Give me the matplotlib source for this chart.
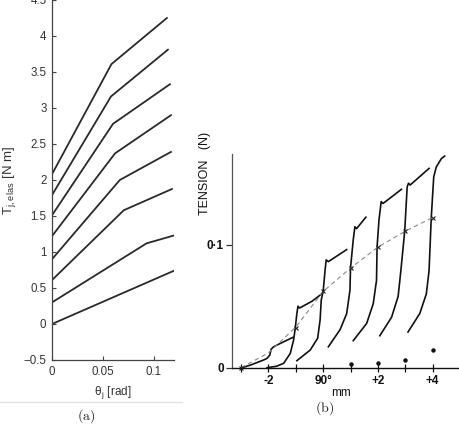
import matplotlib
matplotlib.use("Agg")
import matplotlib.pyplot as plt
from matplotlib.lines import Line2D
from matplotlib.ticker import FixedLocator, FixedFormatter

plt.rcParams['font.family'] = ['Liberation Sans', 'DejaVu Sans']
plt.rcParams['mathtext.fontset'] = 'cm'

# ---------------- Panel (a) data ----------------
a_y0 = [0.0, 0.30, 0.61, 0.90, 1.22, 1.51, 1.79, 2.08]
a_xk = [0.060, 0.093, 0.0706, 0.0667, 0.062, 0.060, 0.058, 0.0585]
a_yk = [0.37, 1.12, 1.58, 2.00, 2.37, 2.78, 3.16, 3.61]
a_xe = [0.120, 0.120, 0.118, 0.117, 0.117, 0.116, 0.114, 0.113]
a_ye = [0.74, 1.23, 1.875, 2.39, 2.90, 3.33, 3.81, 4.25]
a_yticks = [-0.5, 0, 0.5, 1, 1.5, 2, 2.5, 3, 3.5, 4, 4.5]
a_yticklabels = ['\u22120.5', '0', '0.5', '1', '1.5', '2', '2.5', '3', '3.5', '4', '4.5']
a_xticks = [0, 0.05, 0.1]
a_xticklabels = ['0', '0.05', '0.1']

# ---------------- Panel (b) data ----------------
b_curves_x = [
    [-2.96, -2.65, -2.17, -2.05, -1.95, -1.90, -1.81, -1.56, -1.10],
    [-2.05, -1.70, -1.44, -1.20, -1.08, -1.02, -0.96, -0.92, -0.86, -0.41, -0.05],
    [-0.96, -0.47, -0.20, -0.11, -0.07, 0.00, 0.07, 0.11, 0.19, 0.86],
    [0.19, 0.62, 0.86, 0.98, 1.00, 1.10, 1.16, 1.22, 1.56],
    [1.10, 1.59, 1.83, 1.95, 1.97, 2.04, 2.12, 2.19, 2.86],
    [2.07, 2.50, 2.74, 2.84, 2.98, 3.07, 3.12, 3.18, 3.87],
    [3.10, 3.53, 3.77, 3.87, 3.95, 4.04, 4.13, 4.32, 4.44],
]
b_curves_y = [
    [0.0, 0.0022, 0.0063, 0.0076, 0.0103, 0.0150, 0.0170, 0.0198, 0.0247],
    [0.0, 0.0012, 0.0036, 0.0117, 0.0225, 0.0320, 0.0440, 0.0500, 0.0485, 0.0540, 0.0600],
    [0.0057, 0.0144, 0.0240, 0.0390, 0.0550, 0.0620, 0.0790, 0.0876, 0.0862, 0.0960],
    [0.017, 0.031, 0.044, 0.063, 0.081, 0.104, 0.1146, 0.1130, 0.1223],
    [0.022, 0.036, 0.052, 0.071, 0.098, 0.120, 0.135, 0.1335, 0.145],
    [0.026, 0.041, 0.058, 0.079, 0.111, 0.147, 0.150, 0.1485, 0.162],
    [0.029, 0.044, 0.060, 0.079, 0.122, 0.155, 0.163, 0.170, 0.172],
]
b_dash_x = [-3, -2, -1, 0, 1, 2, 3, 4]
b_dash_y = [0.0, 0.012, 0.033, 0.062, 0.081, 0.098, 0.111, 0.122]
b_mark_x = [-3, -1, 0, 1, 2, 3, 4]
b_mark_y = [0.0, 0.032, 0.062, 0.081, 0.098, 0.111, 0.122]
b_dot_x = [1, 2, 3, 4]
b_dot_y = [0.003, 0.004, 0.006, 0.0144]
b_xticks = [-2, 0, 2, 4]
b_xticklabels = ['-2', '90\u00b0', '+2', '+4']
b_xminor = [-3, -1, 1, 3]
b_yticks = [0, 0.1]
b_yticklabels = ['0', '0\u00b71']

W, H = 460, 425
fig = plt.figure(figsize=(4.6, 4.25), dpi=100)
fig.patch.set_facecolor('white')

def px_axes(l, t, r, b):
    return fig.add_axes([l / W, 1 - b / H, (r - l) / W, (b - t) / H])

# ---------------- Panel (a) ----------------
axa = px_axes(52, 0, 174, 360)
for i in range(len(a_y0)):
    axa.plot([0, a_xk[i], a_xe[i]], [a_y0[i], a_yk[i], a_ye[i]],
             color='#2a2a2a', lw=1.3, solid_joinstyle='round')
axa.set_xlim(0, 0.12)
axa.set_ylim(-0.5, 4.5)
for s in ['top', 'right']:
    axa.spines[s].set_visible(False)
for s in ['left', 'bottom']:
    axa.spines[s].set_color('#444444')
    axa.spines[s].set_linewidth(0.9)
axa.set_yticks(a_yticks)
axa.set_yticklabels(a_yticklabels)
axa.set_xticks(a_xticks)
axa.set_xticklabels(a_xticklabels)
axa.tick_params(direction='in', length=3, width=0.8, color='#444444',
                labelsize=8.3, labelcolor='#333333', pad=4)
fig.text(10 / W, 1 - 180 / H, r'T$_{\mathregular{j,elas}}$ [N m]', rotation=90,
         ha='center', va='center', fontsize=9.5, color='#333333')
fig.text(113 / W, 1 - 393 / H, '\u03b8$_{\\mathregular{j}}$ [rad]',
         ha='center', va='center', fontsize=8.5, color='#333333')
fig.add_artist(Line2D([0, 182 / W], [1 - 402 / H, 1 - 402 / H],
                      color='#e2e2e2', lw=1.0, transform=fig.transFigure))
fig.text(86 / W, 1 - 416 / H, r'$\mathrm{(a)}$', ha='center', va='center',
         fontsize=10, color='#222222')

# ---------------- Panel (b) ----------------
axb = px_axes(232, 154, 460, 367.7)
for xs, ys in zip(b_curves_x, b_curves_y):
    axb.plot(xs, ys, color='#111111', lw=1.2, clip_on=False, solid_joinstyle='round')
axb.plot(b_dash_x, b_dash_y, color='#888888', lw=0.8, dashes=(4, 3), clip_on=False)
axb.plot(b_mark_x, b_mark_y, linestyle='none', marker='x', ms=3, mew=0.8,
         color='#222222', clip_on=False)
axb.plot(b_dot_x, b_dot_y, linestyle='none', marker='o', ms=2.2,
         color='#111111', clip_on=False)
axb.set_xlim(-3.33, 5.0)
axb.set_ylim(0, 0.1737)
for s in ['top', 'right']:
    axb.spines[s].set_visible(False)
axb.spines['left'].set_color('#555555')
axb.spines['left'].set_linewidth(0.9)
axb.spines['bottom'].set_color('#111111')
axb.spines['bottom'].set_linewidth(1.0)
axb.xaxis.set_major_locator(FixedLocator(b_xticks))
axb.xaxis.set_major_formatter(FixedFormatter(b_xticklabels))
axb.xaxis.set_minor_locator(FixedLocator(b_xminor))
axb.set_yticks(b_yticks)
axb.set_yticklabels(b_yticklabels)
axb.tick_params(axis='x', which='both', direction='inout', length=6, width=0.9,
                color='#111111', labelsize=8.5, labelcolor='#111111', pad=2)
axb.tick_params(axis='y', direction='out', length=4, width=0.9, color='#333333',
                labelsize=8.5, labelcolor='#111111', pad=2)
for lab in axb.get_xticklabels() + axb.get_yticklabels():
    lab.set_fontweight('bold')
fig.text(205 / W, 1 - 173 / H, 'TENSION   (N)', rotation=90, ha='center',
         va='center', fontsize=9, color='#111111')
fig.text(341 / W, 1 - 393 / H, 'mm', ha='center', va='center',
         fontsize=8.5, color='#111111')
fig.text(325 / W, 1 - 408 / H, r'$\mathrm{(b)}$', ha='center', va='center',
         fontsize=10, color='#222222')

fig.savefig('out.png', dpi=100, facecolor='white')
